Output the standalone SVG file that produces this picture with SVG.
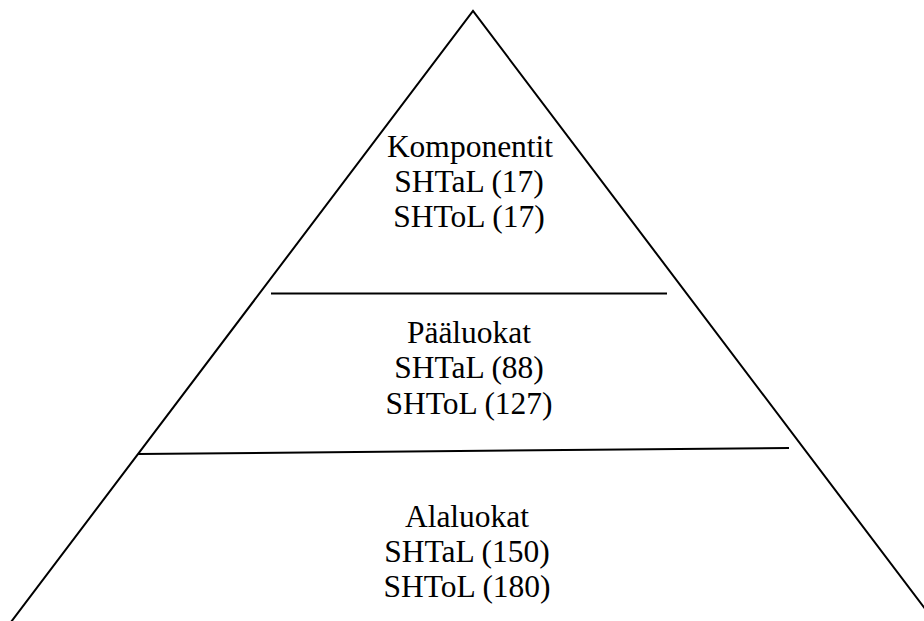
<svg xmlns="http://www.w3.org/2000/svg" width="924" height="621" viewBox="0 0 924 621">
<style>
.ln{stroke:#000;stroke-width:2;fill:none}
.t{font-family:"Liberation Serif","Times New Roman",serif;font-size:31.5px;fill:#000;text-anchor:middle}
</style>
<rect width="924" height="621" fill="#fff"/>
<g id="connectors">
<polyline class="ln" points="11,622 473,11 935,622"/>
<line class="ln" x1="271" y1="293.5" x2="667" y2="293.5"/>
<line class="ln" x1="138" y1="454" x2="789" y2="448"/>
</g>
<g id="top">
<text class="t" x="470" y="157">Komponentit</text>
<text class="t" x="469" y="192">SHTaL (17)</text>
<text class="t" x="469" y="227">SHToL (17)</text>
</g>
<g id="middle">
<text class="t" x="469" y="343">Pääluokat</text>
<text class="t" x="469" y="378">SHTaL (88)</text>
<text class="t" x="469" y="414">SHToL (127)</text>
</g>
<g id="bottom">
<text class="t" x="467" y="527">Alaluokat</text>
<text class="t" x="467" y="562">SHTaL (150)</text>
<text class="t" x="467" y="597">SHToL (180)</text>
</g>
</svg>
